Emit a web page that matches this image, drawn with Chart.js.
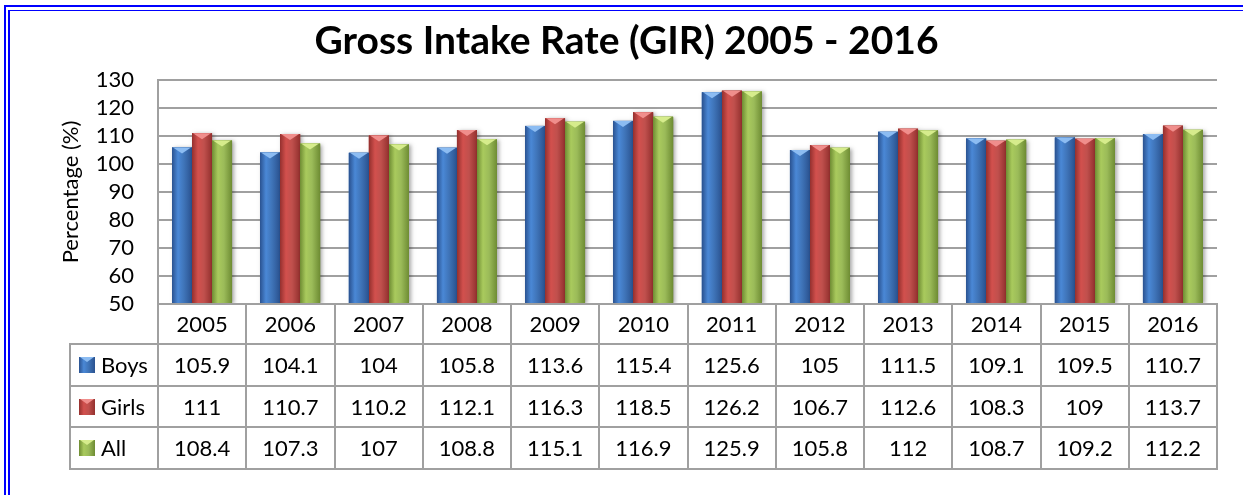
<!DOCTYPE html>
<html>
<head>
<meta charset="utf-8">
<title>Gross Intake Rate (GIR) 2005 - 2016</title>
<script src="https://cdn.jsdelivr.net/npm/chart.js@4.4.1/dist/chart.umd.min.js"></script>
<style>
  html, body { margin: 0; padding: 0; background: #fff; overflow: hidden; }
  #chart { display: block; }
</style>
</head>
<body>
<canvas id="chart" width="1243" height="495"></canvas>
<script>
// data
const years = ['2005', '2006', '2007', '2008', '2009', '2010', '2011', '2012', '2013', '2014', '2015', '2016'];
const boys = [105.9, 104.1, 104, 105.8, 113.6, 115.4, 125.6, 105, 111.5, 109.1, 109.5, 110.7];
const girls = [111, 110.7, 110.2, 112.1, 116.3, 118.5, 126.2, 106.7, 112.6, 108.3, 109, 113.7];
const all = [108.4, 107.3, 107, 108.8, 115.1, 116.9, 125.9, 105.8, 112, 108.7, 109.2, 112.2];
const seriesNames = ['Boys', 'Girls', 'All'];
const yMin = 50, yMax = 130, yStep = 10;

const FONT = 'Lato';

// shading for the 3d-looking bars (Excel style)
const shades = [
    { base: '#3f74b8', dark: '#2a5290', mid: '#4a88d6', light: '#8cbcf2' },
    { base: '#c0504d', dark: '#94302e', mid: '#d2504d', light: '#f08e8c' },
    { base: '#9bbb59', dark: '#6e8c33', mid: '#a9ca5d', light: '#d6ec8c' }
];

function paintBlock(ctx, x0, x1, top, bottom, s, bevel) {
    const g = ctx.createLinearGradient(x0, 0, x1, 0);
    g.addColorStop(0, s.dark);
    g.addColorStop(0.3, s.mid);
    g.addColorStop(0.6, s.base);
    g.addColorStop(1, s.dark);
    ctx.fillStyle = g;
    ctx.fillRect(x0, top, x1 - x0, bottom - top);
    // little bevel on the top face
    const bh = Math.min(bevel, (bottom - top) / 2);
    ctx.fillStyle = s.light;
    ctx.beginPath();
    ctx.moveTo(x0 + 1, top);
    ctx.lineTo(x1 - 1, top);
    ctx.lineTo((x0 + x1) / 2, top + bh);
    ctx.closePath();
    ctx.fill();
}

// white page with the double blue frame (only top and left are in view)
const frame = {
    id: 'frame',
    beforeDraw(chart) {
        const ctx = chart.ctx;
        ctx.save();
        ctx.fillStyle = '#fff';
        ctx.fillRect(0, 0, chart.width, chart.height);
        ctx.fillStyle = '#0000ff';
        ctx.fillRect(4, 5, 2, chart.height);
        ctx.fillRect(4, 5, chart.width, 2);
        ctx.fillRect(8, 10, 2, chart.height);
        ctx.fillRect(8, 10, chart.width, 1);
        ctx.restore();
    }
};

const barLook = {
    id: 'barLook',
    afterDatasetsDraw(chart) {
        const ctx = chart.ctx;
        const a = chart.chartArea;
        ctx.save();
        ctx.beginPath();
        ctx.rect(a.left, a.top - 20, a.right - a.left + 10, a.bottom - a.top + 20);
        ctx.clip();
        chart.data.datasets.forEach((ds, di) => {
            const meta = chart.getDatasetMeta(di);
            meta.data.forEach(bar => {
                const p = bar.getProps(['x', 'y', 'width'], true);
                const bottom = a.bottom - 1;
                const x0 = Math.round(p.x - p.width / 2);
                const x1 = Math.round(p.x + p.width / 2);
                ctx.save();
                ctx.shadowColor = 'rgba(0,0,0,0.35)';
                ctx.shadowBlur = 4;
                ctx.shadowOffsetX = 2;
                ctx.shadowOffsetY = 1;
                ctx.fillStyle = shades[di].base;
                ctx.fillRect(x0, p.y, x1 - x0, bottom - p.y);
                ctx.restore();
                paintBlock(ctx, x0, x1, p.y, bottom, shades[di], 6);
            });
        });
        ctx.restore();
    }
};

// data table drawn under the plot, columns follow the x scale
const dataTable = {
    id: 'dataTable',
    afterDraw(chart) {
        const ctx = chart.ctx;
        const xs = chart.scales.x;
        const a = chart.chartArea;
        const n = years.length;
        const cw = (a.right - a.left) / n;
        const yearH = 40, rowH = 41.7;
        const keyLeft = 70;
        const rows = [boys, girls, all];
        const top = a.bottom;
        const bottom = Math.round(top + yearH + rowH * 3);

        ctx.save();
        ctx.strokeStyle = '#a0a0a0';
        ctx.lineWidth = 2;
        ctx.beginPath();
        ctx.moveTo(a.left, top);
        ctx.lineTo(a.right + 1, top);
        for (let r = 0; r <= 3; r++) {
            const yy = Math.round(top + yearH + rowH * r);
            ctx.moveTo(keyLeft - 1, yy);
            ctx.lineTo(a.right + 1, yy);
        }
        ctx.moveTo(keyLeft, top + yearH);
        ctx.lineTo(keyLeft, bottom);
        for (let i = 0; i <= n; i++) {
            const xx = Math.round(a.left + cw * i);
            ctx.moveTo(xx, top);
            ctx.lineTo(xx, bottom);
        }
        ctx.stroke();

        ctx.fillStyle = '#000';
        ctx.font = '22px ' + FONT;
        ctx.textAlign = 'center';
        ctx.textBaseline = 'alphabetic';
        years.forEach((yr, i) => {
            ctx.fillText(yr, xs.getPixelForValue(i), top + yearH / 2 + 8);
        });
        rows.forEach((vals, r) => {
            const cy = top + yearH + rowH * r + rowH / 2;
            vals.forEach((v, i) => {
                ctx.fillText(String(v), xs.getPixelForValue(i), cy + 8);
            });
        });

        // legend keys
        ctx.textAlign = 'left';
        seriesNames.forEach((name, r) => {
            const cy = top + yearH + rowH * r + rowH / 2;
            paintBlock(ctx, 79, 95, Math.round(cy - 8), Math.round(cy + 8), shades[r], 5);
            ctx.fillStyle = '#000';
            ctx.fillText(name, 101, cy + 8);
        });
        ctx.restore();
    }
};

new Chart(document.getElementById('chart'), {
    type: 'bar',
    data: {
        labels: years,
        datasets: [
            { label: seriesNames[0], data: boys, backgroundColor: shades[0].base },
            { label: seriesNames[1], data: girls, backgroundColor: shades[1].base },
            { label: seriesNames[2], data: all, backgroundColor: shades[2].base }
        ]
    },
    options: {
        responsive: false,
        animation: false,
        devicePixelRatio: 1,
        layout: { padding: { left: 36, right: 26, top: 0, bottom: 191 } },
        datasets: {
            bar: { categoryPercentage: 0.68, barPercentage: 1.0, borderWidth: 0 }
        },
        plugins: {
            legend: { display: false },
            tooltip: { enabled: false },
            title: {
                display: true,
                text: 'Gross Intake Rate (GIR) 2005 - 2016',
                color: '#000',
                font: { family: FONT, size: 39, weight: 'bold' },
                padding: { top: 18, bottom: 15.2 }
            }
        },
        scales: {
            x: { display: false },
            y: {
                min: yMin,
                max: yMax,
                ticks: {
                    stepSize: yStep,
                    autoSkip: false,
                    padding: 24,
                    color: '#000',
                    font: { family: FONT, size: 22 }
                },
                grid: { color: '#a0a0a0', lineWidth: 2, drawTicks: false },
                border: { color: '#a0a0a0', width: 2 },
                title: {
                    display: true,
                    text: 'Percentage (%)',
                    color: '#000',
                    font: { family: FONT, size: 22 },
                    padding: { top: 22, bottom: 0 }
                },
                afterFit(scale) {
                    scale.width = 122;
                }
            }
        }
    },
    plugins: [frame, barLook, dataTable]
});
</script>
</body>
</html>
